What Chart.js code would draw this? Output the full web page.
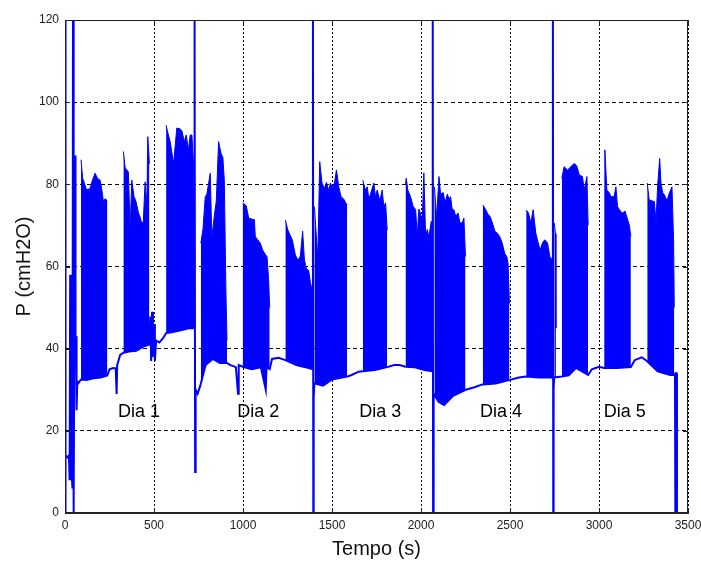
<!DOCTYPE html>
<html>
<head>
<meta charset="utf-8">
<script src="https://cdn.jsdelivr.net/npm/chart.js@4.4.1/dist/chart.umd.min.js"></script>
<style>
  html, body { margin: 0; padding: 0; background: #fff; }
</style>
</head>
<body>
<canvas id="chartP" width="701" height="561"></canvas>
<script>
// Pressure trace (t in s, P in cmH2O)
// lower trace of the signal, including the calibration spikes
const baseT = [0, 2, 4, 15, 22, 26, 29, 32, 35, 38, 42, 45, 47, 50, 52, 55, 57, 59, 62, 65, 69, 75,
  90, 120, 160, 200, 238, 250, 270, 285, 290, 293, 310, 328, 360, 400, 440, 474,
  479, 484, 489, 494, 500, 505, 512, 530, 550, 568, 600, 650, 700, 726, 728, 731, 734, 745,
  760, 790, 830, 870, 910, 930, 960, 972, 976, 998, 1050, 1100, 1128, 1132, 1150,
  1163, 1200, 1238, 1300, 1350, 1392, 1393, 1395, 1397, 1401, 1450, 1500, 1585,
  1610, 1650, 1673, 1740, 1810, 1850, 1880, 1913, 1960, 2020, 2065, 2066, 2068, 2070, 2072,
  2100, 2130, 2180, 2251, 2300, 2345, 2420, 2500, 2550, 2589, 2660, 2739, 2741, 2743, 2745, 2748,
  2791, 2830, 2870, 2939, 2960, 3000, 3029, 3100, 3179, 3200, 3240, 3269, 3330, 3400,
  3427, 3428, 3430, 3436, 3438];
const baseP = [120, 0, 14, 13.5, 14, 8, 58, 8, 52, 9, 6, 120, 0, 0, 38, 44, 87, 40, 43, 25, 32, 31.6,
  32.5, 32.4, 32.8, 33, 33.5, 35, 35.3, 35.2, 29, 36, 38.5, 39, 39.3, 39.5, 40.5, 41,
  47.8, 37, 49, 38, 46, 37, 42, 41.5, 42.5, 43.8, 44, 44.5, 45, 45, 120, 10, 30, 29,
  31, 36, 37.5, 36.5, 36.5, 36, 35.5, 29, 36, 35.6, 35, 35.5, 30, 35.5, 35,
  37.5, 37.8, 37.2, 36, 35.5, 35, 120, 0, 28, 31.6, 31, 32.5, 33.2,
  33.6, 34.4, 34.5, 34.8, 35.5, 36, 36, 35.6, 35.5, 34.8, 34.5, 120, 0, 0, 29,
  27, 26.3, 28.5, 30, 30.6, 31.3, 31.5, 32.4, 33, 33.2, 33, 33, 120, 0, 30, 33,
  33.2, 33.5, 35.3, 33.6, 35, 35.6, 35.3, 35.3, 35.5, 37.2, 37.9, 37, 34.5, 33.6,
  33.6, 0, 34, 34, 0];

// upper envelope of the breathing bursts (null = gap between bursts)
const topT = [90, 99, 122, 141, 154, 169, 182, 197, 206, 216, 225, 238, 280,
  328, 338, 356, 366, 375, 388, 399, 413, 422, 431, 440, 450, 460, 465, 471, 474, 520,
  568, 581, 591, 610, 628, 647, 657, 670, 681, 694, 703, 713, 722, 727, 745,
  763, 775, 788, 797, 816, 825, 838, 850, 863, 876, 887, 895, 904, 910, 950,
  998, 1018, 1032, 1050, 1064, 1069, 1082, 1097, 1110, 1125, 1135, 1144, 1150, 1200,
  1238, 1251, 1266, 1277, 1294, 1309, 1322, 1335, 1345, 1356, 1369, 1379, 1391, 1396,
  1401, 1420, 1431, 1444, 1457, 1469, 1482, 1491, 1501, 1514, 1525, 1538, 1551, 1566, 1577, 1585, 1630,
  1673, 1688, 1698, 1707, 1716, 1735, 1744, 1754, 1769, 1782, 1791, 1801, 1810, 1860,
  1913, 1917, 1926, 1941, 1956, 1970, 1979, 1988, 1998, 2007, 2016, 2026, 2035, 2044, 2058, 2065, 2070,
  2075, 2088, 2101, 2110, 2125, 2135, 2148, 2157, 2166, 2176, 2185, 2195, 2208, 2219, 2232, 2241, 2250, 2300,
  2347, 2363, 2376, 2388, 2401, 2416, 2429, 2442, 2457, 2470, 2482, 2489, 2497, 2550,
  2591, 2604, 2617, 2630, 2645, 2654, 2669, 2682, 2695, 2711, 2724, 2738, 2745,
  2749, 2755, 2758, 2775,
  2791, 2804, 2823, 2842, 2860, 2875, 2889, 2907, 2917, 2932, 2939, 2990,
  3029, 3033, 3044, 3057, 3067, 3085, 3095, 3104, 3119, 3133, 3146, 3157, 3170, 3179, 3220,
  3271, 3282, 3296, 3311, 3320, 3330, 3341, 3348, 3358, 3367, 3382, 3395, 3410, 3419, 3423];
const topP = [86, 81.5, 78.6, 79, 81, 82.7, 81.5, 81, 79, 75.8, 76.5, 76, null,
  88, 84, 83, 69, 81, 77, 75.8, 73, 72, 70.5, 71, 80.6, 75, 91.6, 87.6, 85, null,
  94.4, 92, 90.4, 85, 93.7, 93.5, 93, 90.4, 92, 88.4, 92, 92, 85, 69.7, null,
  65.7, 69, 77, 77.6, 82.7, 67, 72, 76, 90.4, 87.6, 86.5, 81, 54, 42, null,
  75.5, 74.8, 71.8, 71.5, 71.4, 67.3, 66.5, 65.7, 64, 63, 62.4, 56.7, 50, null,
  71.3, 69, 67.5, 66.5, 62.8, 61.5, 62.5, 68.6, 61.6, 59.5, 59, 56, 54, null,
  74.6, 62, 85.5, 80.3, 79, 80.5, 78.5, 80.3, 79.4, 80.3, 83.5, 79.4, 77, 76.4, 75.5, 75, null,
  81, 78.6, 79.4, 76.4, 77.6, 80.3, 77, 78.6, 76, 78.6, 74.6, 75.5, 68.9, null,
  80, 81.5, 78.6, 77, 74.6, 73.9, 67.3, 74, 72.8, 70.9, 82.8, 67.3, 69, 67.3, 71, 64, null,
  79.4, 72, 81.9, 77.6, 78, 75.5, 77.6, 76.4, 77, 73.8, 73.8, 72.2, 73, 70.6, 70.6, 71.8, 62.4, null,
  75, 73.9, 72.7, 72.2, 70.6, 68.5, 68.1, 67.3, 65.6, 63.2, 62.4, 60.8, 51, null,
  73.8, 73, 70.6, 73.8, 68.1, 66.5, 64, 65.7, 66.5, 65.7, 62.4, 61.6, null,
  70.6, 68, 45, null,
  81.5, 84.3, 83.5, 84.3, 85.1, 84.5, 82.3, 81.9, 78.6, 81.9, 70, null,
  53.5, 88.4, 78.6, 78, 77, 77, 79.4, 74.6, 73.5, 73, 73.5, 72, 70.1, 67.3, null,
  80.3, 76.2, 76, 75.8, 70.9, 80, 86.3, 80.3, 77.9, 77.5, 76, 77.9, 79.4, 66.5, 50];

const xTicks = [0, 500, 1000, 1500, 2000, 2500, 3000, 3500];
const yTicks = [0, 20, 40, 60, 80, 100, 120];
const dayNames = ['Dia 1', 'Dia 2', 'Dia 3', 'Dia 4', 'Dia 5'];
const dayT = [416, 1086, 1771, 2450, 3145];
const dayP = 24.5;

const BLUE = '#0000ff';
const FONT = "Arial, 'Liberation Sans', sans-serif";
Chart.defaults.font.family = FONT;
Chart.defaults.color = '#222';

// axes box, inward ticks and the "Dia n" labels
const framePlugin = {
  id: 'frame',
  afterDraw(chart) {
    const { ctx, chartArea: a, scales: { x, y } } = chart;
    ctx.save();
    ctx.strokeStyle = '#222';
    ctx.lineWidth = 1;
    ctx.beginPath();
    xTicks.forEach(v => {
      const px = Math.round(x.getPixelForValue(v)) + 0.5;
      ctx.moveTo(px, a.bottom); ctx.lineTo(px, a.bottom - 5);
      ctx.moveTo(px, a.top); ctx.lineTo(px, a.top + 5);
    });
    yTicks.forEach(v => {
      const py = Math.round(y.getPixelForValue(v)) + 0.5;
      ctx.moveTo(a.left, py); ctx.lineTo(a.left + 5, py);
      ctx.moveTo(a.right, py); ctx.lineTo(a.right - 5, py);
    });
    ctx.stroke();
    ctx.strokeRect(a.left + 0.5, a.top + 0.5, a.width - 1, a.height - 1);

    ctx.fillStyle = '#000';
    ctx.font = '18px ' + FONT;
    ctx.textAlign = 'center';
    ctx.textBaseline = 'middle';
    dayNames.forEach((s, i) => {
      ctx.fillText(s, x.getPixelForValue(dayT[i]), y.getPixelForValue(dayP));
    });
    ctx.restore();
  }
};

new Chart(document.getElementById('chartP'), {
  type: 'line',
  data: {
    datasets: [
      {
        label: 'P',
        data: baseT.map((t, i) => ({ x: t, y: baseP[i] })),
        borderColor: BLUE,
        borderWidth: 2,
        pointRadius: 0,
        tension: 0,
        fill: false,
      },
      {
        label: 'P peaks',
        data: topT.map((t, i) => ({ x: t, y: topP[i] })),
        borderColor: BLUE,
        backgroundColor: BLUE,
        borderWidth: 1,
        pointRadius: 0,
        tension: 0,
        spanGaps: false,
        fill: '-1',
      }
    ]
  },
  options: {
    responsive: false,
    animation: false,
    layout: { padding: { left: 0, right: 13, top: 20, bottom: 0 } },
    plugins: {
      legend: { display: false },
      tooltip: { enabled: false }
    },
    scales: {
      x: {
        type: 'linear',
        min: 0, max: 3500,
        afterBuildTicks: s => { s.ticks = xTicks.map(v => ({ value: v })); },
        afterFit: s => { s.height = 48; s.paddingRight = 0; s.paddingLeft = 0; },
        grid: { color: '#000', lineWidth: 1, drawTicks: false },
        border: { display: true, color: '#222', dash: [2, 2] },
        ticks: { padding: 5, font: { size: 12 }, maxRotation: 0, callback: v => String(v) },
        title: { display: true, text: 'Tempo (s)', font: { size: 20 }, color: '#111', padding: { top: 0, bottom: 0 } }
      },
      y: {
        type: 'linear',
        min: 0, max: 120,
        afterBuildTicks: s => { s.ticks = yTicks.map(v => ({ value: v })); },
        afterFit: s => { s.width = 65; },
        grid: { color: '#000', lineWidth: 1, drawTicks: false },
        border: { display: true, color: '#222', dash: [4, 3] },
        ticks: { padding: 6, font: { size: 12 }, callback: v => String(v) },
        title: { display: true, text: 'P (cmH2O)', font: { size: 20 }, color: '#111', padding: { top: 12, bottom: 0 } }
      }
    }
  },
  plugins: [framePlugin]
});
</script>
</body>
</html>
